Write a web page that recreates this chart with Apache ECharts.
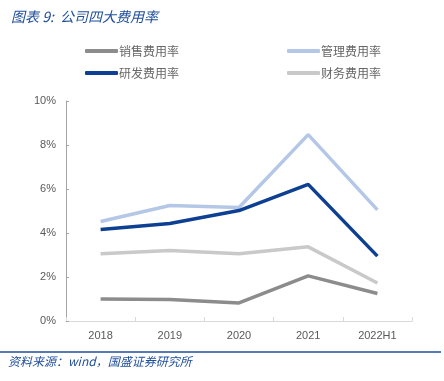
<!DOCTYPE html>
<html><head><meta charset="utf-8">
<script src="https://cdn.jsdelivr.net/npm/echarts@6/dist/echarts.min.js"></script>
<style>html,body{margin:0;padding:0;background:#fff}#c{width:444px;height:381px}</style>
</head><body><div id="c"></div>
<script>
const categories = ['2018','2019','2020','2021','2022H1'];
const names = ['销售费用率','管理费用率','研发费用率','财务费用率'];
const sales = [1.00, 0.98, 0.82, 2.05, 1.25];
const admin = [4.52, 5.25, 5.16, 8.47, 5.05];
const rnd = [4.16, 4.43, 5.02, 6.21, 2.95];
const finance = [3.06, 3.20, 3.06, 3.37, 1.73];
const yTicks = [0, 2, 4, 6, 8, 10];

const colors = ['#8C8C8C', '#B4C7E7', '#0D3F92', '#C9C9C9'];
const seriesData = [sales, admin, rnd, finance];
const font = 'Noto Sans CJK SC';
const legendPos = [[80,40],[282,40],[80,62],[282,62]];

const chart = echarts.init(document.getElementById('c'), null, {renderer:'canvas'});
chart.setOption({
  animation:false,
  backgroundColor:'#fff',
  title:{text:'图表 9:  公司四大费用率', left:6, top:5,
    textStyle:{fontFamily:font, fontStyle:'italic', fontSize:14, fontWeight:'normal', color:'#1F4E9A'}},
  legend: names.map((n,i)=>({data:[n], left:legendPos[i][0], top:legendPos[i][1],
    icon:'roundRect', itemWidth:33, itemHeight:4, itemGap:4,
    textStyle:{fontFamily:font, fontSize:12, color:'#666666', padding:[0,0,0,-4]}})),
  grid:{left:66, right:32, top:101, bottom:60},
  xAxis:{type:'category', data:categories, boundaryGap:true,
    axisLine:{lineStyle:{color:'#D9D9D9', width:1}},
    axisTick:{show:true, inside:true, length:4, lineStyle:{color:'#D9D9D9'}},
    axisLabel:{fontFamily:'Liberation Sans', fontSize:11, color:'#595959', margin:9}},
  yAxis:{type:'value', min:yTicks[0], max:yTicks[yTicks.length-1], interval:2,
    splitLine:{show:false},
    axisLine:{show:true, lineStyle:{color:'#A6A6A6'}},
    axisTick:{show:true, inside:true, length:3, lineStyle:{color:'#A6A6A6'}},
    axisLabel:{formatter:'{value}%', fontFamily:'Liberation Sans', fontSize:11, color:'#595959', margin:10}},
  series: names.map((n,i)=>({name:n, type:'line', data:seriesData[i], showSymbol:false, symbol:'none',
    lineStyle:{color:colors[i], width:3.5}, itemStyle:{color:colors[i]}, z: i===2?5:3})),
  graphic:[
    {type:'line', shape:{x1:0,y1:352,x2:441,y2:352}, style:{stroke:'#1F4E9A', lineWidth:1.5}},
    {type:'text', left:8, top:355, style:{text:'资料来源：wind，国盛证券研究所', fontFamily:font, fontStyle:'italic', fontSize:12, fill:'#1F4E9A'}}
  ]
});
</script></body></html>
